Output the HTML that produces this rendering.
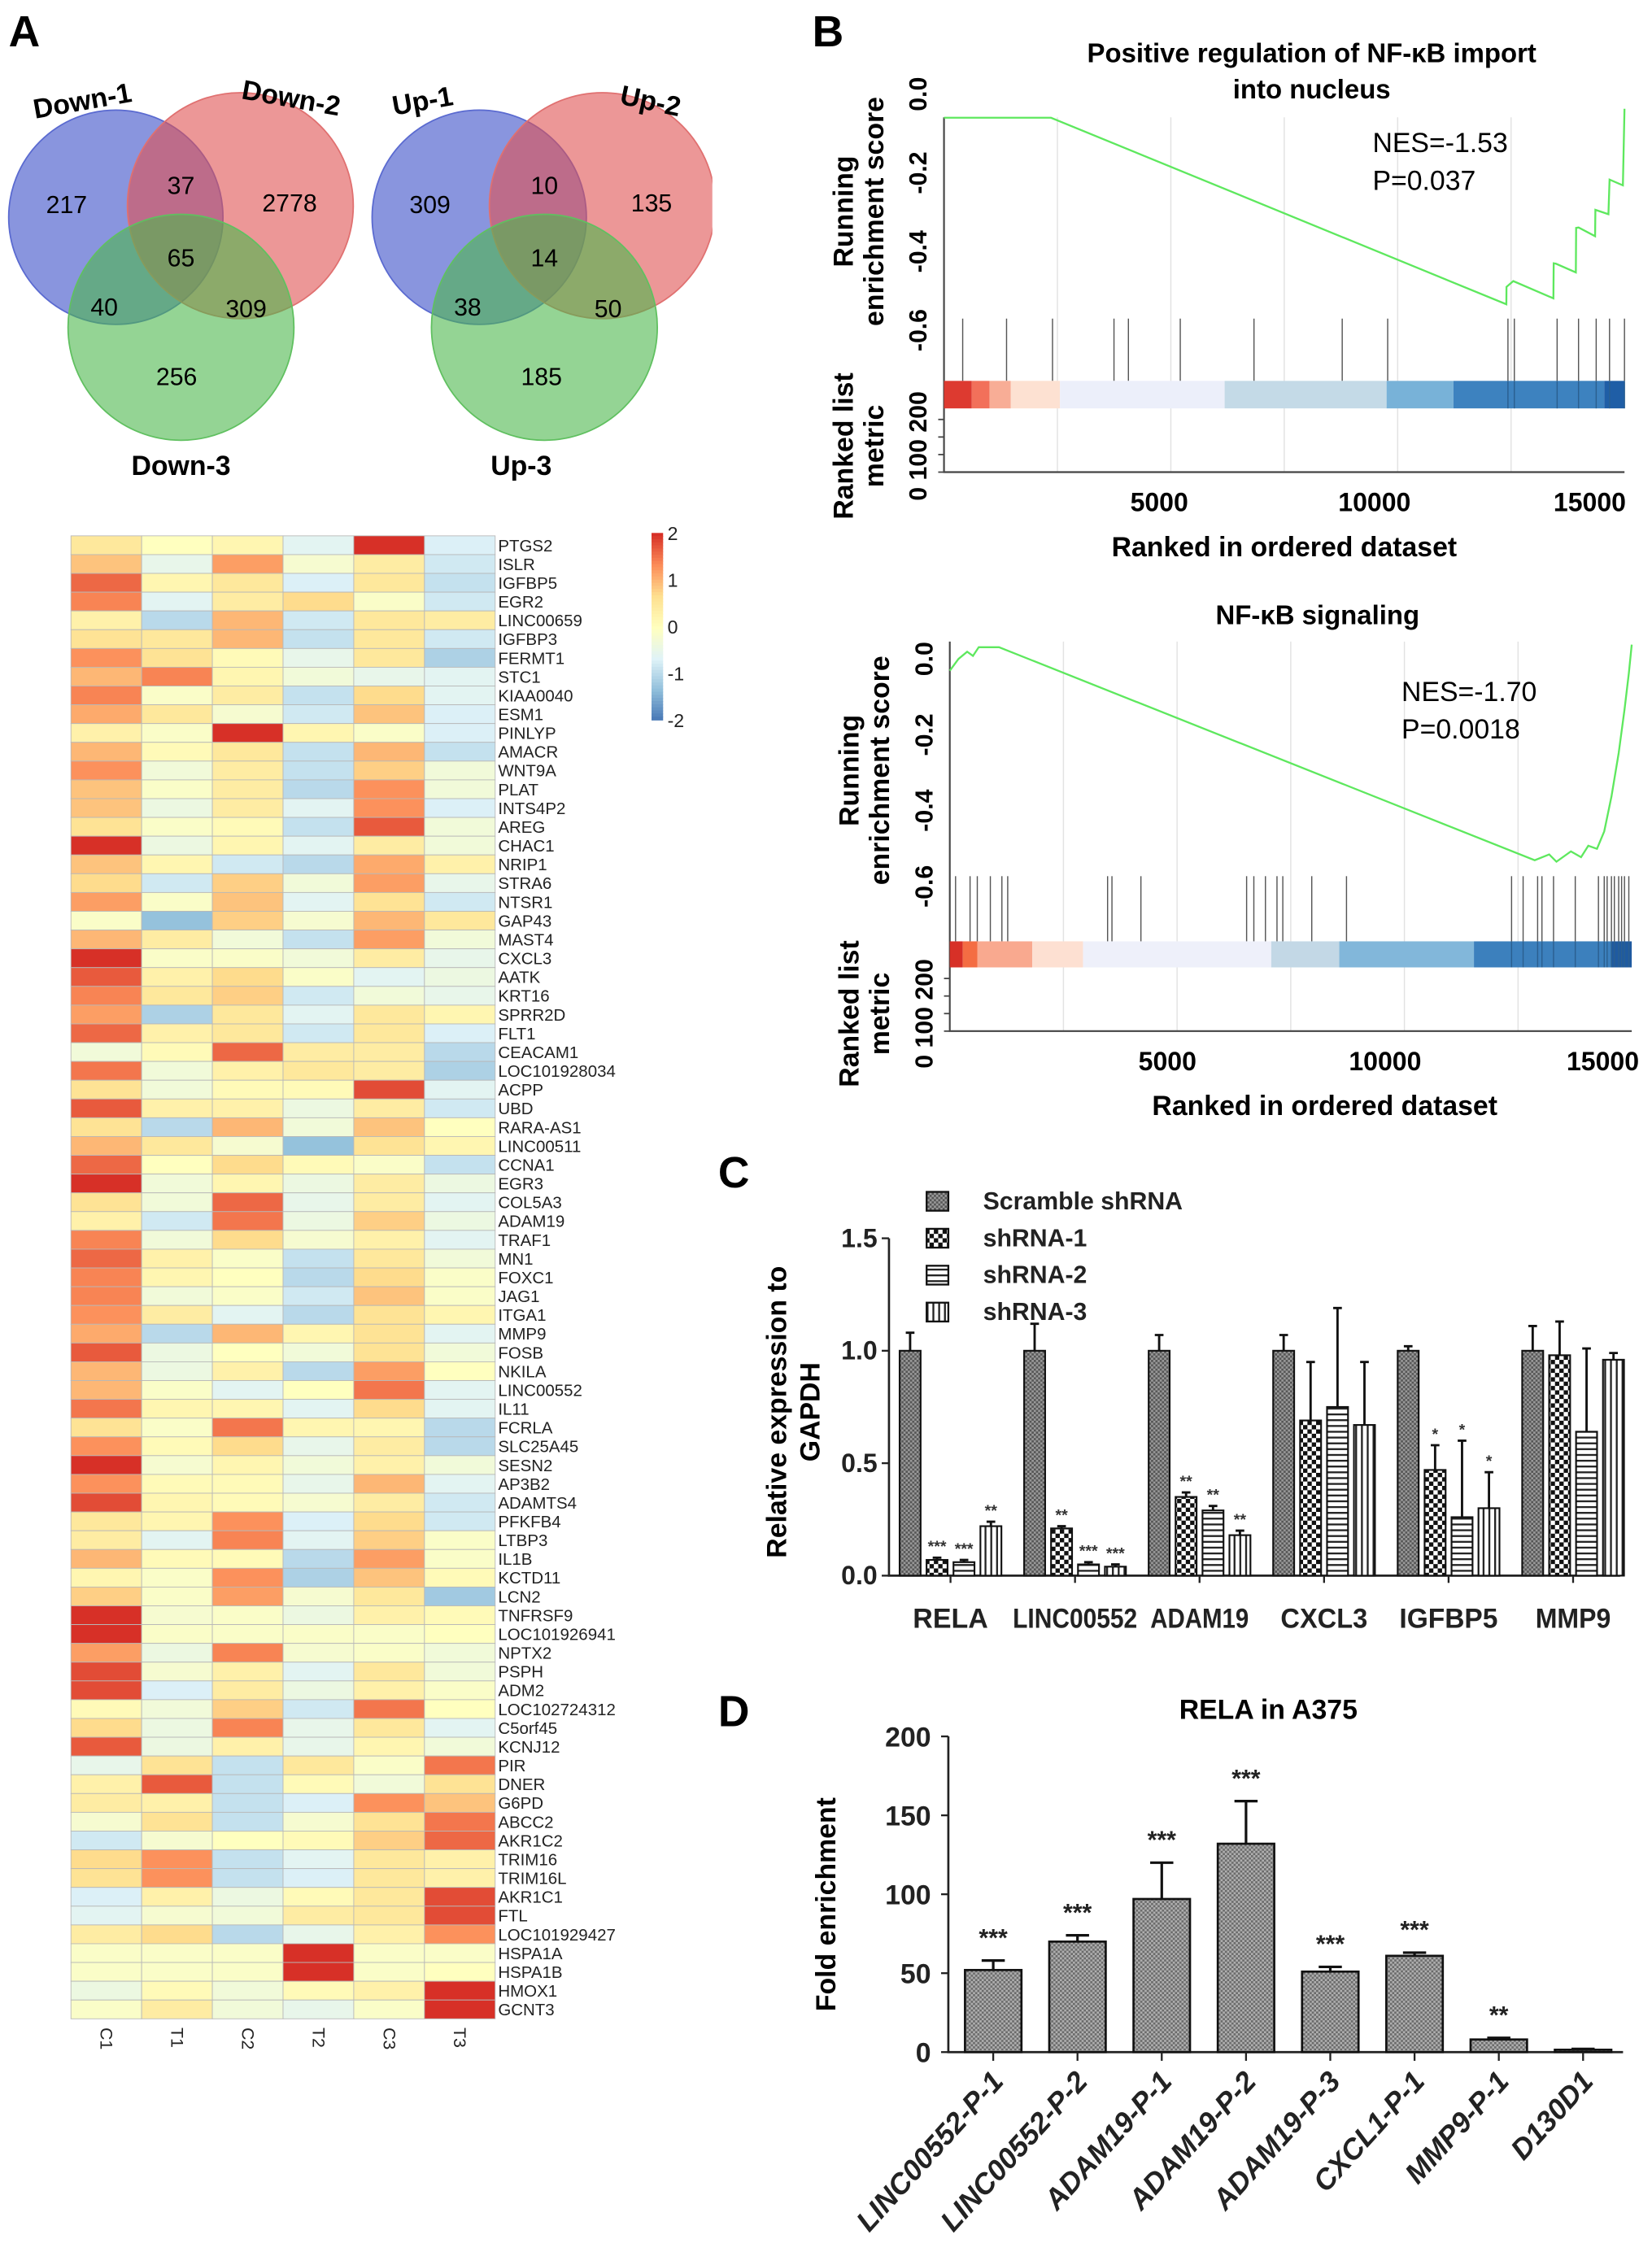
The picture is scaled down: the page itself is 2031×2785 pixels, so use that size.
<!DOCTYPE html>
<html><head><meta charset="utf-8"><style>
html,body{margin:0;padding:0;background:#fff}
svg{display:block}
text{font-family:"Liberation Sans",sans-serif}
</style></head><body>
<svg id="fig" xmlns="http://www.w3.org/2000/svg" width="2031" height="2785" viewBox="0 0 1141 1564" preserveAspectRatio="none">
<defs>
<clipPath id="vclip"><rect x="0" y="0" width="492" height="340"/></clipPath>
<pattern id="pScr" width="3" height="3" patternUnits="userSpaceOnUse"><rect width="3" height="3" fill="#9a9a9a"/><rect width="1.5" height="1.5" fill="#555"/><rect x="1.5" y="1.5" width="1.5" height="1.5" fill="#555"/></pattern>
<pattern id="pChk" width="6" height="6" patternUnits="userSpaceOnUse"><rect width="6" height="6" fill="#fff"/><rect width="3" height="3" fill="#111"/><rect x="3" y="3" width="3" height="3" fill="#111"/></pattern>
<pattern id="pHor" width="4" height="4" patternUnits="userSpaceOnUse"><rect width="4" height="4" fill="#fff"/><rect width="4" height="1.3" fill="#222"/></pattern>
<pattern id="pVer" width="4" height="4" patternUnits="userSpaceOnUse"><rect width="4" height="4" fill="#fff"/><rect width="1.3" height="4" fill="#222"/></pattern>
<pattern id="pD" width="3" height="3" patternUnits="userSpaceOnUse"><rect width="3" height="3" fill="#b0b0b0"/><rect width="1.5" height="1.5" fill="#6a6a6a"/><rect x="1.5" y="1.5" width="1.5" height="1.5" fill="#6a6a6a"/></pattern>
</defs>

<text x="6" y="32" font-size="30" font-weight="bold">A</text>
<text x="561" y="32" font-size="30" font-weight="bold">B</text>
<text x="496" y="820" font-size="30" font-weight="bold">C</text>
<text x="496" y="1192" font-size="30" font-weight="bold">D</text>

<g>
<circle cx="80" cy="150" r="74" fill="#3a4fc8" fill-opacity="0.6" stroke="#5a6ad0" stroke-width="1"/>
<circle cx="166" cy="142" r="78" fill="#e05252" fill-opacity="0.6" stroke="#e07070" stroke-width="1"/>
<circle cx="125" cy="226" r="78" fill="#4cb84c" fill-opacity="0.6" stroke="#60c060" stroke-width="1"/>
<text x="58" y="76" font-size="19" font-weight="bold" text-anchor="middle" transform="rotate(-10 58 76)">Down-1</text>
<text x="200" y="74" font-size="19" font-weight="bold" text-anchor="middle" transform="rotate(10 200 74)">Down-2</text>
<text x="125" y="328" font-size="19" font-weight="bold" text-anchor="middle">Down-3</text>
<g font-size="17" text-anchor="middle">
<text x="46" y="147">217</text>
<text x="125" y="134">37</text>
<text x="200" y="146">2778</text>
<text x="125" y="184">65</text>
<text x="72" y="218">40</text>
<text x="170" y="219">309</text>
<text x="122" y="266">256</text>
</g></g>

<g clip-path="url(#vclip)">
<circle cx="331" cy="150" r="74" fill="#3a4fc8" fill-opacity="0.6" stroke="#5a6ad0" stroke-width="1"/>
<circle cx="416" cy="142" r="78" fill="#e05252" fill-opacity="0.6" stroke="#e07070" stroke-width="1"/>
<circle cx="376" cy="226" r="78" fill="#4cb84c" fill-opacity="0.6" stroke="#60c060" stroke-width="1"/>
</g>
<text x="293" y="76" font-size="19" font-weight="bold" text-anchor="middle" transform="rotate(-10 293 76)">Up-1</text>
<text x="448" y="76" font-size="19" font-weight="bold" text-anchor="middle" transform="rotate(12 448 76)">Up-2</text>
<text x="360" y="328" font-size="19" font-weight="bold" text-anchor="middle">Up-3</text>
<g font-size="17" text-anchor="middle">
<text x="297" y="147">309</text>
<text x="376" y="134">10</text>
<text x="450" y="146">135</text>
<text x="376" y="184">14</text>
<text x="323" y="218">38</text>
<text x="420" y="219">50</text>
<text x="374" y="266">185</text>
</g>

<g id="heat"></g>
<g id="gsea1"></g>
<g id="gsea2"></g>
<g id="barC"></g>
<g id="barD"></g>
</svg>
<script>
// ---------- Heatmap data ----------
const genes=["PTGS2","ISLR","IGFBP5","EGR2","LINC00659","IGFBP3","FERMT1","STC1","KIAA0040","ESM1","PINLYP","AMACR","WNT9A","PLAT","INTS4P2","AREG","CHAC1","NRIP1","STRA6","NTSR1","GAP43","MAST4","CXCL3","AATK","KRT16","SPRR2D","FLT1","CEACAM1","LOC101928034","ACPP","UBD","RARA-AS1","LINC00511","CCNA1","EGR3","COL5A3","ADAM19","TRAF1","MN1","FOXC1","JAG1","ITGA1","MMP9","FOSB","NKILA","LINC00552","IL11","FCRLA","SLC25A45","SESN2","AP3B2","ADAMTS4","PFKFB4","LTBP3","IL1B","KCTD11","LCN2","TNFRSF9","LOC101926941","NPTX2","PSPH","ADM2","LOC102724312","C5orf45","KCNJ12","PIR","DNER","G6PD","ABCC2","AKR1C2","TRIM16","TRIM16L","AKR1C1","FTL","LOC101929427","HSPA1A","HSPA1B","HMOX1","GCNT3"];
const samples=["C1","T1","C2","T2","C3","T3"];
const heatValues=[
[0.5,0,0.2,-0.6,2,-0.7],[0.9,-0.5,1.2,-0.2,0.4,-0.8],[1.6,0.2,0.5,-0.7,0.5,-0.9],[1.4,-0.6,0.4,0.7,-0.1,-0.8],
[0.3,-1,1.0,-0.8,0.5,0.4],[0.6,0.5,1.0,-0.9,0.5,-0.8],[1.3,0.6,0.1,-0.5,0.5,-1.1],[1.0,1.4,0.2,-0.3,-0.5,-0.6],
[1.4,-0.1,0.4,-0.9,0.7,-0.6],[1.1,0.5,-0.2,-0.8,0.9,-0.7],[0.3,-0.1,2,0.2,-0.1,-0.7],[1.0,0.1,0.5,-0.9,1.0,-0.9],
[1.3,-0.3,0.4,-0.9,0.8,-0.3],[0.9,-0.1,0.4,-1,1.3,-0.3],[0.9,-0.4,0.4,-0.6,1.3,-0.7],[0.6,-0.1,0.1,-0.9,1.7,-0.3],
[2,-0.4,0.2,-0.6,0.4,-0.3],[0.9,0.2,-0.8,-1,1.1,0.3],[0.7,-0.8,0.8,-0.3,1.2,-0.5],[1.2,-0.1,0.9,-0.6,0.6,-0.8],
[-0.1,-1.3,0.8,-0.2,1.0,0.5],[1.0,0.4,-0.3,-0.9,1.2,-0.3],[2,-0.1,-0.1,-0.3,0.4,-0.5],[1.7,0.3,0.7,-0.1,-0.6,-0.4],
[1.4,0.5,0.8,-0.8,-0.3,-0.5],[1.2,-1.1,0.5,-0.6,0.5,0.2],[1.6,0.3,0.5,-0.8,0.5,-0.7],[-0.3,0.1,1.6,0.4,0.4,-1.0],
[1.5,-0.3,0.3,0.5,0.4,-1.1],[0.6,-0.3,0.1,0.1,1.8,-0.6],[1.7,0.3,0.3,-0.4,0.4,-0.8],[0.6,-1.0,1.0,-0.3,0.9,0.0],
[1.0,0.5,-0.2,-1.3,0.6,0.2],[1.6,0.0,0.7,0.1,-0.1,-0.9],[2,-0.3,0.2,-0.4,0.4,-0.4],[0.6,-0.3,1.6,-0.5,0.4,-0.6],
[0.3,-0.8,1.5,-0.4,0.8,-0.4],[1.4,-0.3,0.7,-0.2,0.3,-0.6],[1.6,0.3,-0.1,-0.9,0.5,-0.3],[1.4,0.2,0,-1,0.7,-0.1],
[1.4,-0.3,-0.1,-0.8,0.9,-0.1],[1.3,0.4,-0.6,-1,0.6,0.2],[1.1,-1,1.0,0.2,0.6,-0.6],[1.7,-0.4,0.0,-0.3,0.6,-0.3],
[1.0,-0.4,0.3,-1,1.2,0.0],[1.0,-0.1,-0.6,0.0,1.5,-0.6],[1.5,0.2,0.2,-0.6,0.7,-0.6],[0.6,-0.1,1.5,0.2,0.2,-1.0],
[1.3,0.1,0.7,-0.5,0.4,-1.0],[2,-0.2,0.2,-0.3,0.3,-0.3],[1.3,0.1,0.1,-0.5,1.0,-0.6],[1.8,0.2,0.1,-0.2,0.4,-0.8],
[0.5,0.2,1.3,-0.7,0.7,-0.8],[0.4,-0.6,1.4,-0.6,0.8,-0.1],[1.0,0.1,0.1,-1,1.2,-0.1],[0.2,-0.1,1.3,-1.1,0.9,0.1],
[0.8,-0.1,1.2,-0.2,0.5,-1.2],[2,-0.2,-0.1,-0.4,0.3,0.1],[2,-0.1,-0.1,-0.1,-0.1,0.0],[1.2,-0.4,1.4,-0.2,-0.1,-0.3],
[1.8,-0.2,0.3,-0.6,0.5,-0.3],[1.8,-0.7,0.4,-0.4,0.3,-0.1],[0.1,-0.3,0.8,-0.8,1.5,0.0],[0.7,-0.4,1.4,-0.5,0.5,-0.6],
[1.7,-0.4,0.3,-0.5,0.2,-0.3],[-0.5,0.6,-0.9,0.5,-0.1,1.5],[0.3,1.7,-0.9,0.1,-0.3,0.6],[0.4,0.3,-0.9,-0.7,1.3,0.9],
[-0.2,0.6,-0.9,-0.2,0.6,1.5],[-0.8,-0.2,0.0,0.1,0.8,1.6],[0.7,1.3,-0.9,-0.6,0.5,0.3],[0.6,1.3,-0.9,-0.7,0.5,0.3],
[-0.7,0.3,-0.4,0.1,0.5,1.8],[-0.6,-0.2,-0.3,0.4,0.5,1.8],[0.4,0.7,-1.0,-0.5,0.3,1.3],[-0.1,-0.1,-0.1,2,-0.1,-0.1],
[-0.1,-0.1,-0.1,2,-0.1,0.0],[-0.4,0.1,-0.3,0.1,0.3,2],[-0.1,0.4,-0.3,-0.5,-0.1,2]];
const legendTicks=[2,1,0,-1,-2];

// ---------- GSEA data ----------
const es1Ranks=[0,2357,12396,12400,12549,13433,13440,13491,13928,13935,13987,14352,14360,14647,14670,14965,15000];
const es1Scores=[-0.06,-0.06,-0.534,-0.49,-0.475,-0.519,-0.43,-0.431,-0.453,-0.34,-0.339,-0.361,-0.294,-0.305,-0.217,-0.232,-0.037];
const hit1Ranks=[412,1379,2392,3747,4065,5208,6833,8778,9780,12431,12572,13515,13987,14376,14670,15000];
const bins1Ranks=[0,613,1002,1473,2557,6186,9756,11229,14553,15000];
const bins1Colors=["#dd3a30","#f2705a","#f8ad96","#fde1d2","#eceffa","#c4dae7","#78b2d8","#3d82bf","#1f5ea6"];
const es2Ranks=[0,191,382,510,637,1083,12866,13185,13344,13662,13885,14045,14236,14395,14554,14713,14841,14936,15000];
const es2Scores=[-0.031,0,0.019,0.008,0.031,0.031,-0.531,-0.516,-0.535,-0.508,-0.523,-0.493,-0.501,-0.455,-0.363,-0.248,-0.134,-0.038,0.038];
const hit2Ranks=[127,446,605,892,1146,1274,3471,3567,4204,6529,6688,6943,7197,7325,7962,8726,12357,12611,12930,13025,13280,13758,14268,14395,14459,14554,14618,14713,14777,14841,14936];
const bins2Ranks=[0,287,605,1815,2930,7070,8567,11529,14554,15000];
const bins2Colors=["#d73027","#f46d43","#f9a98f","#fde0d2","#eef0fa","#c3d8e6","#82b7da","#3c80bd","#1f5aa0"];
const esTicks=[0,-0.2,-0.4,-0.6];
const rankTicks=[5000,10000,15000];

// ---------- Panel C data ----------
const cGroups=["RELA","LINC00552","ADAM19","CXCL3","IGFBP5","MMP9"];
const cSeries=["Scramble shRNA","shRNA-1","shRNA-2","shRNA-3"];
const cScramble=[1.0,1.0,1.0,1.0,1.0,1.0];
const cSh1=[0.07,0.21,0.35,0.69,0.47,0.98];
const cSh2=[0.06,0.05,0.29,0.75,0.26,0.64];
const cSh3=[0.22,0.04,0.18,0.67,0.30,0.96];
const cErrScr=[0.08,0.12,0.07,0.07,0.02,0.11];
const cErr1=[0.01,0.01,0.02,0.26,0.11,0.15];
const cErr2=[0.01,0.01,0.02,0.44,0.34,0.37];
const cErr3=[0.02,0.01,0.02,0.28,0.16,0.03];
const cStars1=["***","**","**","","*",""];
const cStars2=["***","***","**","","*",""];
const cStars3=["**","***","**","","*",""];
const cTicks=[0.0,0.5,1.0,1.5];

// ---------- Panel D data ----------
const dCats=["LINC00552-P-1","LINC00552-P-2","ADAM19-P-1","ADAM19-P-2","ADAM19-P-3","CXCL1-P-1","MMP9-P-1","D130D1"];
const dVals=[52,70,97,132,51,61,8,1.5];
const dErr=[6,4,23,27,3,2,1,0.5];
const dStars=["***","***","***","***","***","***","**",""];
const dTicks=[0,50,100,150,200];

const NS="http://www.w3.org/2000/svg";
function mk(tag,attrs,parent){const e=document.createElementNS(NS,tag);for(const k in attrs)e.setAttribute(k,attrs[k]);parent.appendChild(e);return e;}
function tx(parent,x,y,s,attrs){const t=mk("text",Object.assign({x:x,y:y},attrs||{}),parent);t.textContent=s;return t;}

// ---------- Heatmap ----------
(function(){
  const g=document.getElementById("heat");
  const x0=49,x1=342,y0=370,y1=1394;
  const cw=(x1-x0)/samples.length, rh=(y1-y0)/genes.length;
  const stops=["#4575B4","#91BFDB","#E0F3F8","#FFFFBF","#FEE090","#FC8D59","#D73027"];
  function hex(h){return [parseInt(h.substr(1,2),16),parseInt(h.substr(3,2),16),parseInt(h.substr(5,2),16)];}
  function col(v){let t=(Math.max(-2,Math.min(2,v))+2)/4*(stops.length-1);let i=Math.min(Math.floor(t),stops.length-2);let f=t-i;const a=hex(stops[i]),b=hex(stops[i+1]);return "rgb("+a.map((c,k)=>Math.round(c+(b[k]-c)*f)).join(",")+")";}
  heatValues.forEach((row,r)=>{
    row.forEach((v,c)=>{
      const cell=mk("rect",{x:x0+c*cw,y:y0+r*rh,width:cw,height:rh,fill:col(v),stroke:"#b8b8b8","stroke-width":0.5},g);
      
      
    });
    const lb=tx(g,344,y0+r*rh+rh*0.82,genes[r],{"font-size":11.5,fill:"#222"});
    
    
  });
  samples.forEach((s,c)=>{
    const cx=x0+(c+0.5)*cw;
    const t=tx(g,cx-4,1400,s,{"font-size":12,fill:"#222",transform:"rotate(90 "+(cx-4)+" 1400)"});
    
    
  });
  const ly0=368,ly1=497,lx=450;
  for(let i=0;i<60;i++){
    const v=2-4*i/60;
    const r=mk("rect",{x:lx,y:ly0+i*(ly1-ly0)/60,width:8,height:(ly1-ly0)/60+0.5,fill:col(v)},g);
    
    
  }
  legendTicks.forEach(v=>{
    const y=ly0+(2-v)/4*(ly1-ly0);
    const t=tx(g,461,y+5,String(v),{"font-size":13,fill:"#222"});
    
    
  });
})();

// ---------- GSEA ----------
function gsea(gid,o){
  const g=document.getElementById(gid);
  const X=r=>o.xl+r*(o.xr-o.xl)/15000;
  const Y=v=>o.y0-v*o.ppu;
  [2500,5000,7500,10000,12500].forEach(r=>{
    const l=mk("line",{x1:X(r),x2:X(r),y1:o.top,y2:o.bot,stroke:"#e2e2e2","stroke-width":0.8},g);
    
    
  });
  const ax=mk("path",{d:"M"+o.xl+","+o.top+"V"+o.bot+"H"+o.xr,fill:"none",stroke:"#444","stroke-width":1.2},g);
  
  
  o.hits.forEach(r=>{
    const l=mk("line",{x1:X(r),x2:X(r),y1:o.hitTop,y2:o.barTop,stroke:"#555","stroke-width":0.8},g);
    
    
  });
  for(let i=0;i<o.bins.length-1;i++){
    const r=mk("rect",{x:X(o.bins[i]),y:o.barTop,width:X(o.bins[i+1])-X(o.bins[i]),height:o.barH,fill:o.colors[i]},g);
    
    
  }
  o.hits.forEach(r=>{ if(r>11000){const l=mk("line",{x1:X(r),x2:X(r),y1:o.barTop,y2:o.barTop+o.barH,stroke:"#2a5f90","stroke-width":0.8},g);}});
  [0,1,2,3].forEach(i=>{
    const y=o.bot-i*(o.bot-o.barTop-o.barH-4)/3.3;
    const t=mk("line",{x1:o.xl-4,x2:o.xl,y1:y,y2:y,stroke:"#444"},g);
    
    
  });
  const pts=o.ranks.map((r,i)=>X(r).toFixed(1)+","+Y(o.scores[i]).toFixed(1)).join(" ");
  const c=mk("polyline",{points:pts,fill:"none",stroke:"#5ee85e","stroke-width":1.3},g);
  
  
  esTicks.forEach(v=>{
    const y=Y(v),x=o.xl-12;
    const t=tx(g,x,y,v.toFixed(1),{"font-size":17,"font-weight":"bold","text-anchor":"middle",transform:"rotate(-90 "+x+" "+y+")"});
    
    
  });
  const ml=tx(g,o.xl-12,o.metricY,"0 100 200",{"font-size":17,"font-weight":"bold","text-anchor":"middle",transform:"rotate(-90 "+(o.xl-12)+" "+o.metricY+")"});
  
  
  rankTicks.forEach(r=>{
    const t=tx(g,X(r)-o.tickShift*(r/15000),o.bot+27,String(r),{"font-size":18,"font-weight":"bold","text-anchor":"middle"});
    
    
  });
  const xt=tx(g,o.xt,o.bot+58,"Ranked in ordered dataset",{"font-size":19,"font-weight":"bold","text-anchor":"middle"});
  
  
  const y1=o.ytX, yc=o.esMid;
  const a=tx(g,y1,yc,"Running",{"font-size":19,"font-weight":"bold","text-anchor":"middle",transform:"rotate(-90 "+y1+" "+yc+")"});
  
  
  const b=tx(g,y1+21,yc,"enrichment score",{"font-size":19,"font-weight":"bold","text-anchor":"middle",transform:"rotate(-90 "+(y1+21)+" "+yc+")"});
  
  
  const cc=tx(g,y1,o.metricY,"Ranked list",{"font-size":19,"font-weight":"bold","text-anchor":"middle",transform:"rotate(-90 "+y1+" "+o.metricY+")"});
  
  
  const d=tx(g,y1+21,o.metricY,"metric",{"font-size":19,"font-weight":"bold","text-anchor":"middle",transform:"rotate(-90 "+(y1+21)+" "+o.metricY+")"});
  
  
  o.title.forEach((s,i)=>{
    const t=tx(g,o.tx,o.ty+i*25,s,{"font-size":18.5,"font-weight":"bold","text-anchor":"middle"});
    
    
  });
  const n=tx(g,o.nx,o.ny,o.nes,{"font-size":19});
  
  
  const p=tx(g,o.nx,o.ny+26,o.p,{"font-size":19});
  
  
}
gsea("gsea1",{xl:652,xr:1122,top:81,bot:326,y0:65,ppu:271.7,hits:hit1Ranks,hitTop:220,barTop:263,barH:19,bins:bins1Ranks,colors:bins1Colors,ranks:es1Ranks,scores:es1Scores,metricY:308,tickShift:24,xt:887,ytX:589,esMid:146,title:["Positive regulation of NF-\u03baB import","into nucleus"],tx:906,ty:43,nes:"NES=-1.53",p:"P=0.037",nx:948,ny:105});
gsea("gsea2",{xl:656,xr:1127,top:443,bot:712,y0:455,ppu:261.7,hits:hit2Ranks,hitTop:605,barTop:650,barH:18,bins:bins2Ranks,colors:bins2Colors,ranks:es2Ranks,scores:es2Scores,metricY:700,tickShift:20,xt:915,ytX:593,esMid:532,title:["NF-\u03baB signaling"],tx:910,ty:431,nes:"NES=-1.70",p:"P=0.0018",nx:968,ny:484});

// ---------- Panel C ----------
(function(){
  const g=document.getElementById("barC");
  const xl=614,xr=1119,yb=1088,ppu=155.3;
  const Y=v=>yb-v*ppu;
  const series=[cScramble,cSh1,cSh2,cSh3], errs=[cErrScr,cErr1,cErr2,cErr3], stars=[null,cStars1,cStars2,cStars3];
  const fills=["url(#pScr)","url(#pChk)","url(#pHor)","url(#pVer)"];
  const gw=86, bw=14.5, sp=18.6, first=628.6;
  const labelW=[52,86,68,60,68,52];
  const ax=mk("path",{d:"M"+xl+","+Y(1.5)+"V"+yb+"H"+xr,fill:"none",stroke:"#222","stroke-width":1.5},g);
  
  
  cTicks.forEach(v=>{
    const l=mk("line",{x1:xl-5,x2:xl,y1:Y(v),y2:Y(v),stroke:"#222","stroke-width":1.3},g);
    
    
    const t=tx(g,xl-8,Y(v)+6,v.toFixed(1),{"font-size":18,"font-weight":"bold","text-anchor":"end",fill:"#222"});
    
    
  });
  cGroups.forEach((name,gi)=>{
    series.forEach((arr,si)=>{
      const cx=first+gi*gw+si*sp, v=arr[gi], e=errs[si][gi];
      const r=mk("rect",{x:cx-bw/2,y:Y(v),width:bw,height:v*ppu,fill:fills[si],stroke:"#111","stroke-width":1.2},g);
      
      
      const eb=mk("path",{d:"M"+cx+","+Y(v)+"V"+Y(v+e)+"M"+(cx-3)+","+Y(v+e)+"H"+(cx+3),stroke:"#111","stroke-width":1.6,fill:"none"},g);
      
      
      if(stars[si]&&stars[si][gi]){
        const s=tx(g,cx,Y(v+e)-4,stars[si][gi],{"font-size":11,"font-weight":"bold","text-anchor":"middle",fill:"#333"});
        
        
      }
    });
    const mid=first+gi*gw+1.5*sp;
    const tk=mk("line",{x1:mid,x2:mid,y1:yb,y2:yb+5,stroke:"#222","stroke-width":1.3},g);
    
    
    const t=tx(g,mid-labelW[gi]/2,1124,name,{"font-size":19,"font-weight":"bold",fill:"#222"});
    t.setAttribute("textLength",String(labelW[gi]));
    t.setAttribute("lengthAdjust","spacingAndGlyphs");
    
    
  });
  cSeries.forEach((s,i)=>{
    const y=823+i*25.5;
    const r=mk("rect",{x:640,y:y,width:15,height:13,fill:fills[i],stroke:"#111","stroke-width":1.3},g);
    
    
    const t=tx(g,679,y+12,s,{"font-size":17,"font-weight":"bold",fill:"#222"});
    
    
  });
  const a=tx(g,543,975,"Relative expression to",{"font-size":19,"font-weight":"bold","text-anchor":"middle",transform:"rotate(-90 543 975)"});
  
  
  const b=tx(g,566,975,"GAPDH",{"font-size":19,"font-weight":"bold","text-anchor":"middle",transform:"rotate(-90 566 975)"});
  
  
})();

// ---------- Panel D ----------
(function(){
  const g=document.getElementById("barD");
  const xl=655,xr=1121,yb=1417,ppu=1.09;
  const Y=v=>yb-v*ppu;
  const first=686,sp=58.2,bw=39;
  const ax=mk("path",{d:"M"+xl+","+Y(200)+"V"+yb+"H"+xr,fill:"none",stroke:"#222","stroke-width":1.5},g);
  
  
  dTicks.forEach(v=>{
    const l=mk("line",{x1:xl-5,x2:xl,y1:Y(v),y2:Y(v),stroke:"#222","stroke-width":1.3},g);
    
    
    const t=tx(g,xl-12,Y(v)+7,String(v),{"font-size":19,"font-weight":"bold","text-anchor":"end",fill:"#222"});
    
    
  });
  dCats.forEach((c,i)=>{
    const cx=first+i*sp, v=dVals[i], e=dErr[i];
    const r=mk("rect",{x:cx-bw/2,y:Y(v),width:bw,height:v*ppu,fill:"url(#pD)",stroke:"#111","stroke-width":1.5},g);
    
    
    const eb=mk("path",{d:"M"+cx+","+Y(v)+"V"+Y(v+e)+"M"+(cx-8)+","+Y(v+e)+"H"+(cx+8),stroke:"#111","stroke-width":1.8,fill:"none"},g);
    
    
    if(dStars[i]){
      const s=tx(g,cx,Y(v+e)-10,dStars[i],{"font-size":17,"font-weight":"bold","text-anchor":"middle",fill:"#222"});
      
      
    }
    const tk=mk("line",{x1:cx,x2:cx,y1:yb,y2:yb+6,stroke:"#222","stroke-width":1.3},g);
    
    
    const lx=cx+8, ly=1438;
    const t=tx(g,lx,ly,c,{"font-size":20,"font-weight":"bold","font-style":"italic","text-anchor":"end",fill:"#222",transform:"rotate(-48 "+lx+" "+ly+")"});
    
    
  });
  const ti=tx(g,876,1187,"RELA in A375",{"font-size":19,"font-weight":"bold","text-anchor":"middle"});
  
  
  const yt=tx(g,577,1315,"Fold enrichment",{"font-size":19,"font-weight":"bold","text-anchor":"middle",transform:"rotate(-90 577 1315)"});
  
  
})();
</script>
</body></html>
